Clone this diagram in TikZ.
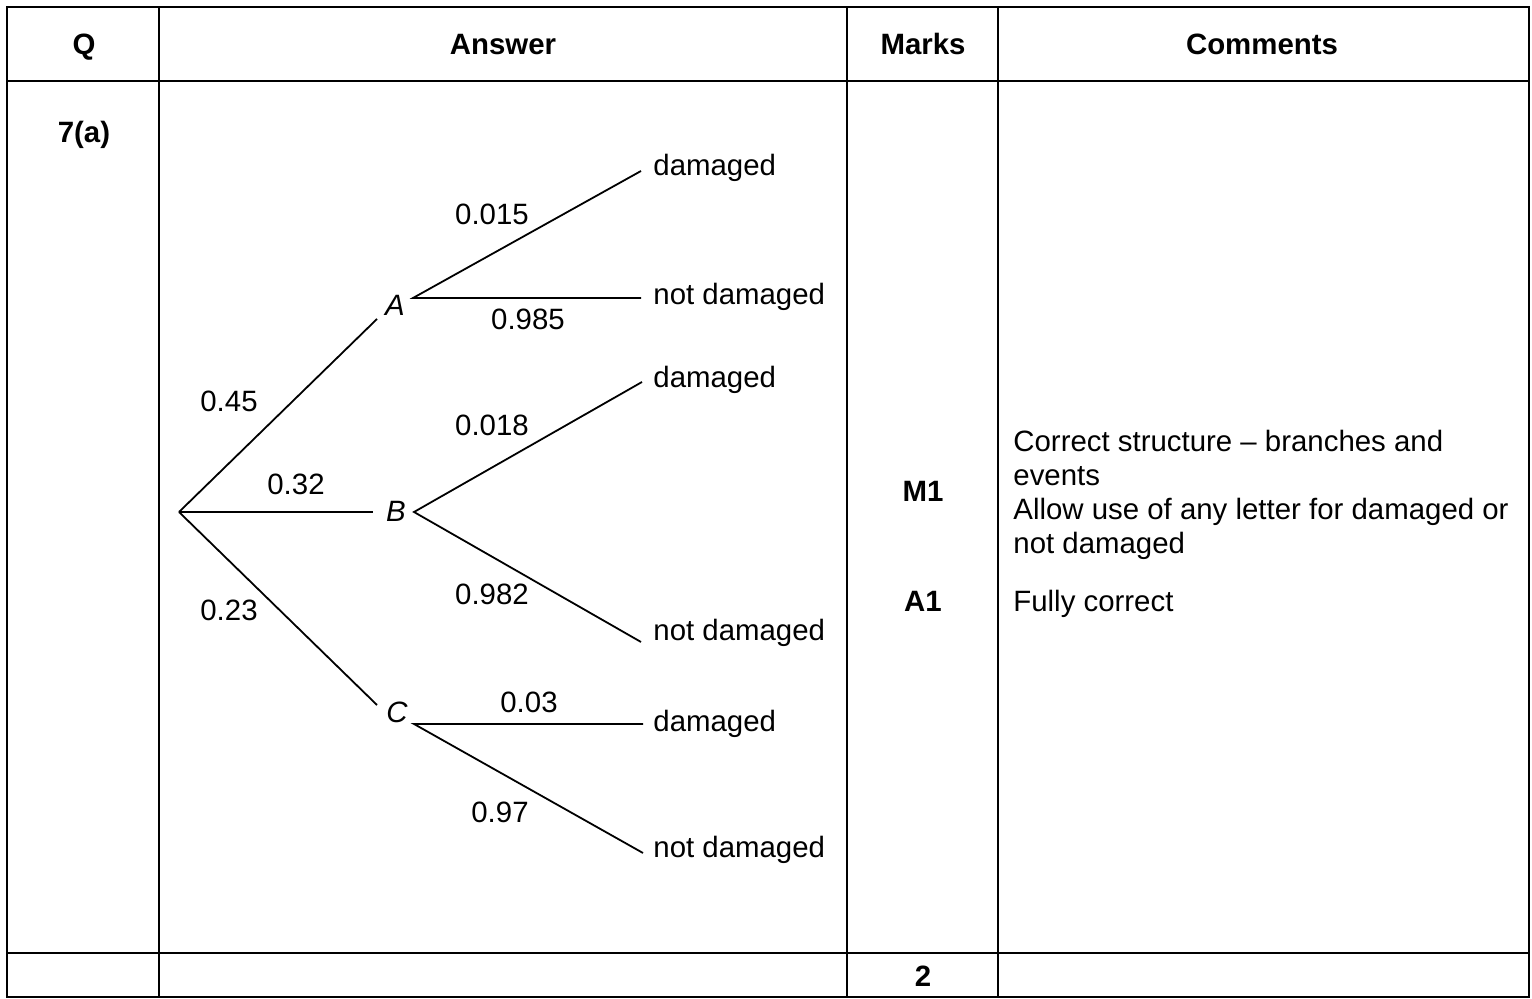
\documentclass[tikz,border=0pt]{standalone}
\usepackage{fontspec}
\setmainfont{Liberation Sans}
\begin{document}
\begin{tikzpicture}[x=0.5pt,y=-0.5pt,
  txt/.style={inner sep=0pt, font=\fontsize{14.7pt}{17pt}\selectfont},
  hdr/.style={inner sep=0pt, anchor=base, font=\fontsize{14.7pt}{17pt}\selectfont\bfseries},
  lbl/.style={txt, anchor=base},
  ev/.style={inner sep=0pt, anchor=base, font=\fontsize{14.7pt}{17pt}\selectfont\itshape},
  outc/.style={txt, anchor=base west},
  cmt/.style={txt, anchor=base west},
  grid/.style={line width=1.1pt},
  branch/.style={line width=0.9pt}]
\useasboundingbox (0,0) rectangle (1532,999);
% table
\draw[grid] (7,7) rectangle (1529,997);
\draw[grid] (7,81) -- (1529,81);
\draw[grid] (7,953) -- (1529,953);
\draw[grid] (159,7) -- (159,997);
\draw[grid] (847,7) -- (847,997);
\draw[grid] (998,7) -- (998,997);
% headers
\node[hdr] (hq) at (84,55) {Q};
\node[hdr] (ha) at (503,55) {Answer};
\node[hdr] (hm) at (923,55) {Marks};
\node[hdr] (hc) at (1262,55) {Comments};
\node[hdr] (q7) at (84,143) {7(a)};
\node[hdr] (m1) at (923,502) {M1};
\node[hdr] (a1) at (923,612) {A1};
\node[hdr] (tot) at (923,986) {2};
% comments
\node[cmt] (c1) at (1013,452) {Correct structure -- branches and};
\node[cmt] (c2) at (1013,486) {events};
\node[cmt] (c3) at (1013,520) {Allow use of any letter for damaged or};
\node[cmt] (c4) at (1013,554) {not damaged};
\node[cmt] (c5) at (1013,612) {Fully correct};
% tree coordinates
\coordinate (root) at (179,512);
\coordinate (ain) at (377,319);
\coordinate (aout) at (413,298);
\coordinate (bin) at (373,512);
\coordinate (bout) at (414,512);
\coordinate (cin) at (377,705);
\coordinate (cout) at (414,724);
\coordinate (a1e) at (641,171);
\coordinate (a2e) at (641,298);
\coordinate (b1e) at (642,382);
\coordinate (b2e) at (641,642);
\coordinate (c1e) at (643,724);
\coordinate (c2e) at (643,853);
% event letters
\node[ev] (A) at (395,316) {A};
\node[ev] (B) at (396,522) {B};
\node[ev] (C) at (397,723) {C};
% outcomes
\node[outc] (ad) at (653,176) {damaged};
\node[outc] (an) at (653,305) {not damaged};
\node[outc] (bd) at (653,388) {damaged};
\node[outc] (bn) at (653,641) {not damaged};
\node[outc] (cd) at (653,732) {damaged};
\node[outc] (cn) at (653,857) {not damaged};
% branches
\draw[branch] (root) -- (ain);
\draw[branch] (root) -- (bin);
\draw[branch] (root) -- (cin);
\draw[branch] (a1e) -- (aout) -- (a2e);
\draw[branch] (b1e) -- (bout) -- (b2e);
\draw[branch] (c1e) -- (cout) -- (c2e);
% probabilities
\node[lbl] (p45) at (229,412) {0.45};
\node[lbl] (p32) at (296,495) {0.32};
\node[lbl] (p23) at (229,621) {0.23};
\node[lbl] (p015) at (492,225) {0.015};
\node[lbl] (p985) at (528,330) {0.985};
\node[lbl] (p018) at (492,436) {0.018};
\node[lbl] (p982) at (492,605) {0.982};
\node[lbl] (p03) at (529,712) {0.03};
\node[lbl] (p97) at (500,822) {0.97};
\end{tikzpicture}
\end{document}
